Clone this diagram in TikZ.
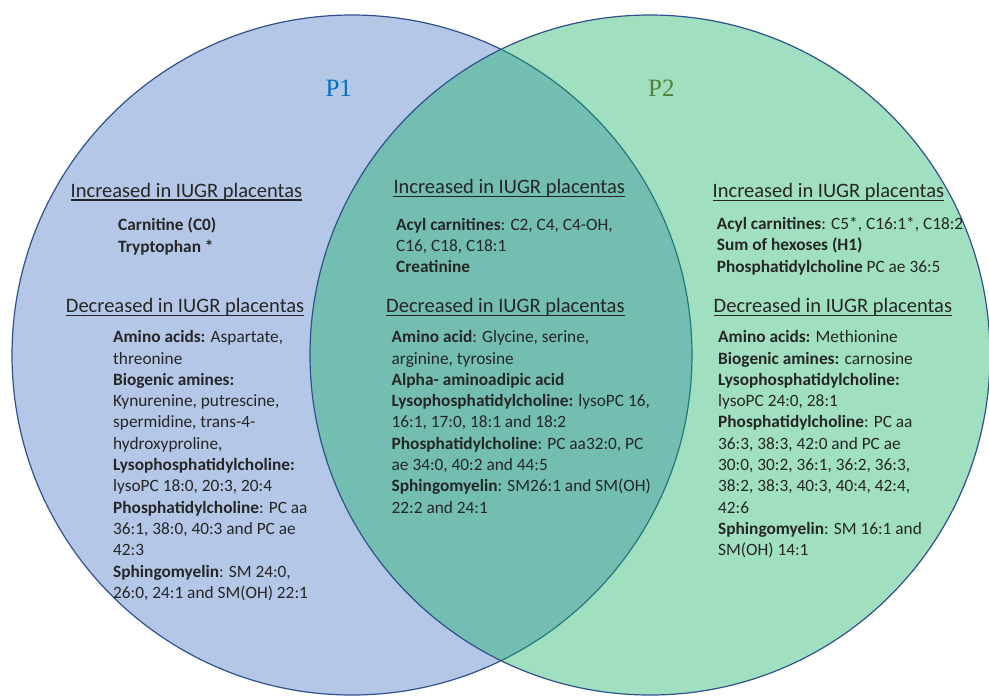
\documentclass[tikz,border=0pt]{standalone}
\usepackage{fontspec}
\setmainfont{Carlito}
\newfontfamily\labelfont{Liberation Serif}
\usepackage{tikz}
\definecolor{setblue}{HTML}{B4C7E7}
\definecolor{setgreen}{RGB}{18,177,97}
\definecolor{rimblue}{HTML}{2F528F}
\definecolor{ponecol}{HTML}{0070C0}
\definecolor{ptwocol}{HTML}{538135}

\begin{document}
\begin{tikzpicture}[
    x=1pt, y=-1pt,
    heading/.style={anchor=base west, inner sep=0pt, text=black!85,
                    font=\fontsize{20.5}{24}\selectfont},
    % lists are placed by the baseline of their last line
    itemlist/.style={anchor=base west, inner sep=0pt, align=left, text=black!85,
                     font=\fontsize{17.3}{21.3}\selectfont},
    setlabel/.style={font=\labelfont\fontsize{25}{30}\selectfont},
    rim/.style={draw=rimblue, line width=1.2pt}
  ]
  \useasboundingbox (0,0) rectangle (989,699);

  % the two sets
  \draw [rim, fill=setblue] (352,355) circle [radius=340];
  \draw [rim, fill=setgreen, fill opacity=0.4] (650,355) circle [radius=340];

  \node (P1) [setlabel, text=ponecol] at (338.7,88.3) {P1};
  \node (P2) [setlabel, text=ptwocol] at (661.3,88.3) {P2};

  % P1 only
  \node (IncL) [heading] at (70.5,197) {Increased in IUGR placentas};
  \node (ListIncL) [itemlist] at (118,252) {\textbf{Carnitine (C0)}\\\textbf{Tryptophan *}};
  \node (DecL) [heading] at (65.7,312.7) {Decreased in IUGR placentas};
  \node (ListDecL) [itemlist] at (113,598.3) {\textbf{Amino acids:} Aspartate,\\threonine\\
    \textbf{Biogenic amines:}\\Kynurenine, putrescine,\\spermidine, trans-4-\\hydroxyproline,\\
    \textbf{Lysophosphatidylcholine:}\\lysoPC 18:0, 20:3, 20:4\\
    \textbf{Phosphatidylcholine}: PC aa\\36:1, 38:0, 40:3 and PC ae\\42:3\\
    \textbf{Sphingomyelin}: SM 24:0,\\26:0, 24:1 and SM(OH) 22:1};

  % P1 and P2
  \node (IncM) [heading] at (393.3,193.3) {Increased in IUGR placentas};
  \node (ListIncM) [itemlist] at (396,272.6) {\textbf{Acyl carnitines}: C2, C4, C4-OH,\\C16, C18, C18:1\\
    \textbf{Creatinine}};
  \node (DecM) [heading] at (386,312.7) {Decreased in IUGR placentas};
  \node (ListDecM) [itemlist] at (391.5,513.1) {\textbf{Amino acid}: Glycine, serine,\\arginine, tyrosine\\
    \textbf{Alpha- aminoadipic acid}\\\textbf{Lysophosphatidylcholine:} lysoPC 16,\\16:1, 17:0, 18:1 and 18:2\\
    \textbf{Phosphatidylcholine}: PC aa32:0, PC\\ae 34:0, 40:2 and 44:5\\
    \textbf{Sphingomyelin}: SM26:1 and SM(OH)\\22:2 and 24:1};

  % P2 only
  \node (IncR) [heading] at (712.5,197.3) {Increased in IUGR placentas};
  \node (ListIncR) [itemlist] at (716.7,272.1) {\textbf{Acyl carnitines}: C5*, C16:1*, C18:2\\
    \textbf{Sum of hexoses (H1)}\\\textbf{Phosphatidylcholine} PC ae 36:5};
  \node (DecR) [heading] at (713.5,312.7) {Decreased in IUGR placentas};
  \node (ListDecR) [itemlist] at (718,555.7) {\textbf{Amino acids:} Methionine\\
    \textbf{Biogenic amines:} carnosine\\\textbf{Lysophosphatidylcholine:}\\lysoPC 24:0, 28:1\\
    \textbf{Phosphatidylcholine}: PC aa\\36:3, 38:3, 42:0 and PC ae\\30:0, 30:2, 36:1, 36:2, 36:3,\\
    38:2, 38:3, 40:3, 40:4, 42:4,\\42:6\\
    \textbf{Sphingomyelin}: SM 16:1 and\\SM(OH) 14:1};

  % underlines
  \foreach \h in {IncL,DecL,IncM,DecM,IncR,DecR}
    \draw [line width=1.1pt, black!85] ([yshift=-3pt]\h.base west) -- ([yshift=-3pt]\h.base east);
\end{tikzpicture}
\end{document}
